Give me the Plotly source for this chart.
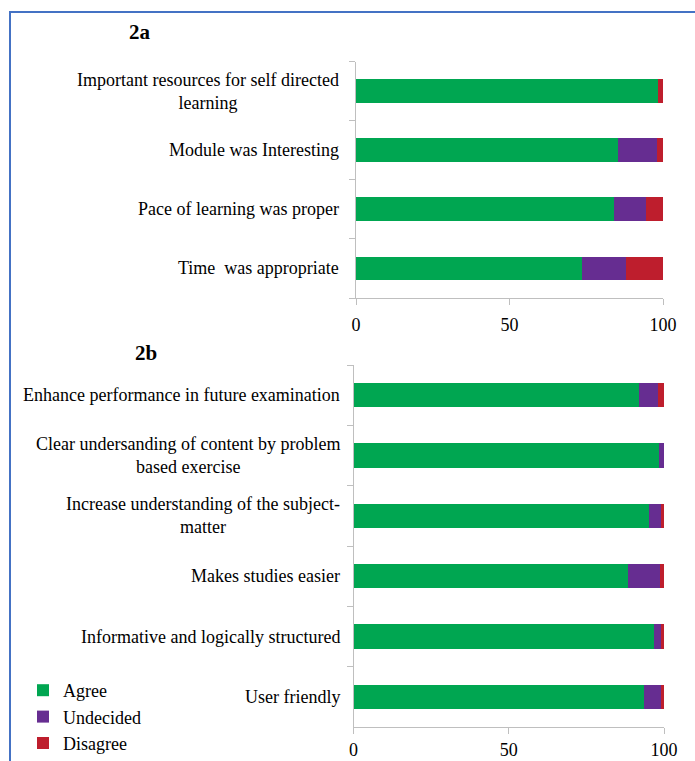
import plotly.graph_objects as go

W, H = 695, 761

# ---- data ----
cats_a = ["Important resources for self directed<br>learning",
          "Module was Interesting",
          "Pace of learning was proper",
          "Time  was appropriate"]
agree_a = [98.4, 85.5, 84.0, 73.5]
undecided_a = [0.0, 12.5, 10.5, 14.5]
disagree_a = [1.6, 2.0, 5.5, 12.0]

cats_b = ["Enhance performance in future examination",
          "Clear undersanding of content by problem<br>based exercise",
          "Increase understanding of the subject-<br>matter",
          "Makes studies easier",
          "Informative and logically structured",
          "User friendly"]
agree_b = [91.8, 98.3, 95.3, 88.4, 96.9, 93.6]
undecided_b = [6.4, 1.7, 3.8, 10.4, 2.2, 5.5]
disagree_b = [1.8, 0.0, 0.9, 1.2, 0.9, 0.9]

x_ticks = [0, 50, 100]
series_names = ["Agree", "Undecided", "Disagree"]
colors = ["#00A651", "#662D91", "#BE1E2D"]

FONT = "Times New Roman, Liberation Serif, DejaVu Serif, serif"
FS = 18

fig = go.Figure()

for name, col, va, vb in zip(series_names, colors,
                             [agree_a, undecided_a, disagree_a],
                             [agree_b, undecided_b, disagree_b]):
    fig.add_trace(go.Bar(y=cats_a, x=va, orientation="h", name=name,
                         marker=dict(color=col, line=dict(width=0)),
                         xaxis="x", yaxis="y", showlegend=False))
    fig.add_trace(go.Bar(y=cats_b, x=vb, orientation="h", name=name,
                         marker=dict(color=col, line=dict(width=0)),
                         xaxis="x2", yaxis="y2", showlegend=True))

def px(x):
    return x / W

def py(y):
    return 1 - y / H

axis_common = dict(showgrid=False, zeroline=False, showline=True,
                   linecolor="#BFBFBF", linewidth=1, ticks="outside",
                   ticklen=6, tickcolor="#BFBFBF")

fig.update_layout(
    width=W, height=H, autosize=False,
    margin=dict(l=0, r=0, t=0, b=0, autoexpand=False),
    paper_bgcolor="white", plot_bgcolor="white",
    barmode="stack", bargap=0.6,
    font=dict(family=FONT, size=FS, color="black"),
    xaxis=dict(domain=[px(356), px(663)], range=[0, 100], anchor="y",
               tickvals=x_ticks, ticktext=[str(v) for v in x_ticks],
               ticklabelstandoff=4, **axis_common),
    yaxis=dict(domain=[py(298), py(61.5)], anchor="x", type="category",
               categoryorder="array", categoryarray=cats_a[::-1],
               showticklabels=False, tickson="boundaries", **axis_common),
    xaxis2=dict(domain=[px(353.5), px(664)], range=[0, 100], anchor="y2",
                tickvals=x_ticks, ticktext=[str(v) for v in x_ticks],
                ticklabelstandoff=0, **axis_common),
    yaxis2=dict(domain=[py(727), py(365)], anchor="x2", type="category",
                categoryorder="array", categoryarray=cats_b[::-1],
                showticklabels=False, tickson="boundaries", **axis_common),
    legend=dict(x=px(23), y=py(672), xanchor="left", yanchor="top",
                traceorder="normal", font=dict(family=FONT, size=FS),
                itemwidth=30, tracegroupgap=0, bgcolor="rgba(0,0,0,0)"),
    showlegend=True,
)

annotations = []
for c in cats_a:
    annotations.append(dict(text=c, xref="paper", x=px(341), xanchor="right",
                            yref="y", y=c, yanchor="middle", align="center",
                            showarrow=False, font=dict(family=FONT, size=FS)))
for c in cats_b:
    annotations.append(dict(text=c, xref="paper", x=px(342), xanchor="right",
                            yref="y2", y=c, yanchor="middle", align="center",
                            showarrow=False, font=dict(family=FONT, size=FS)))
annotations.append(dict(text="<b>2a</b>", xref="paper", yref="paper",
                        x=px(140), y=py(32), xanchor="center", yanchor="middle",
                        showarrow=False, font=dict(family=FONT, size=21)))
annotations.append(dict(text="<b>2b</b>", xref="paper", yref="paper",
                        x=px(146), y=py(353), xanchor="center", yanchor="middle",
                        showarrow=False, font=dict(family=FONT, size=21)))
fig.update_layout(annotations=annotations)

# outer blue frame (left and top edges visible)
fig.add_shape(type="rect", xref="paper", yref="paper",
              x0=px(10), y0=-0.1, x1=1.1, y1=py(12),
              line=dict(color="#4472C4", width=2), fillcolor="rgba(0,0,0,0)",
              layer="below")

fig.write_html("out.html", config={"responsive": False},
               post_script="document.body.style.margin='0';"
                           "document.body.style.overflow='hidden';")
